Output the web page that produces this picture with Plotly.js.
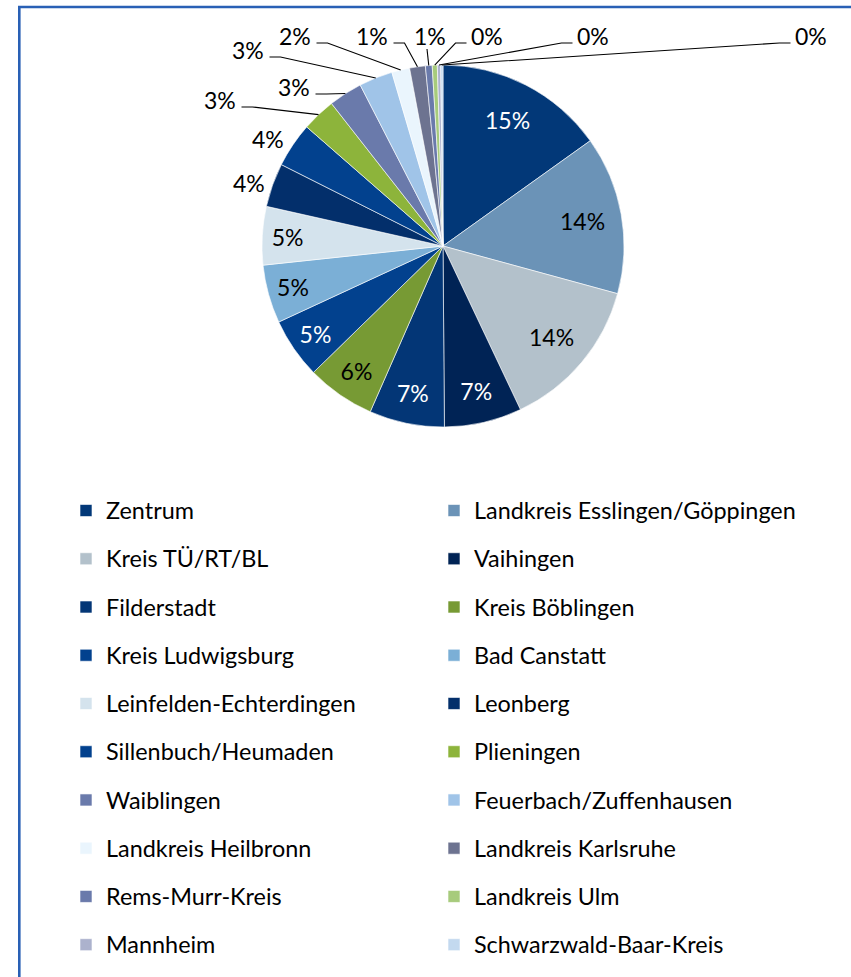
<!DOCTYPE html>
<html><head><meta charset="utf-8">
<script src="https://cdn.plot.ly/plotly-3.0.1.min.js"></script>
<style>html,body{margin:0;padding:0;background:#fff;}#chart{width:851px;height:977px;}</style>
</head><body><div id="chart"></div>
<script>
// ---- data ----
const categories = ["Zentrum","Landkreis Esslingen/Göppingen","Kreis TÜ/RT/BL","Vaihingen","Filderstadt","Kreis Böblingen","Kreis Ludwigsburg","Bad Canstatt","Leinfelden-Echterdingen","Leonberg","Sillenbuch/Heumaden","Plieningen","Waiblingen","Feuerbach/Zuffenhausen","Landkreis Heilbronn","Landkreis Karlsruhe","Rems-Murr-Kreis","Landkreis Ulm","Mannheim","Schwarzwald-Baar-Kreis"];
const shares = [15.1,14.1,13.7,6.9,6.7,6.1,5.4,5.2,5.2,3.9,4.0,3.0,3.0,3.0,1.6,1.4,0.6,0.45,0.3,0.2];

// ---- styles ----
const colors = ["#023878","#6b93b7","#b3c1cb","#002355","#033676","#779a34","#02418e","#7bafd6","#d4e3ed","#032f6b","#02418e","#8db43b","#6a7aab","#a0c4e8","#eaf5fd","#6d7390","#6a7aab","#a7cb7c","#acb2cd","#c3d9ef"];
const insideTextColors = ["#fff","#000","#000","#fff","#fff","#000","#fff","#000","#000","#000","#000","#000","#000","#000","#000","#000","#000","#000","#000","#000"];
const insideCount = 9;      // slices labelled inside the pie
const bigSlices = 3;        // the largest slices: label placed at a fixed radius fraction
const bigLabelRadius = 0.785;
// outside label placement (pixel), side where leader line leaves
const outsideLabels = [
  ["Leonberg",249,183,null],["Sillenbuch/Heumaden",268,139,null],["Plieningen",220,100,"right"],
  ["Waiblingen",294,87,"right"],["Feuerbach/Zuffenhausen",248,50,"right"],["Landkreis Heilbronn",295,36,"right"],
  ["Landkreis Karlsruhe",372,36,"right"],["Rems-Murr-Kreis",430,36,"below"],["Landkreis Ulm",487,36,"left"],
  ["Mannheim",593,36,"left"],["Schwarzwald-Baar-Kreis",811,36,"left"]
];
const W = 851, H = 977;
const FONT = "Lato, 'Open Sans', sans-serif";
const FS = 23, LFS = 23.4;
const domX = [262/W, 624/W], domY = [1-427/H, 1-65/H];

const total = shares.reduce((a,b)=>a+b,0);
const cx = W*(domX[0]+domX[1])/2, cy = H*(1-(domY[0]+domY[1])/2);
const R = Math.min(W*(domX[1]-domX[0]), H*(domY[1]-domY[0]))/2;
const cum = []; let acc = 0; shares.forEach(v=>{cum.push(acc); acc+=v;});
const px = x=>x/W, py = y=>1-y/H;
const midAngle = i => 2*Math.PI*(cum[i]+shares[i]/2)/total;
const pctText = i => Math.round(shares[i]/total*100)+'%';

const legendLabels = categories.map(c=>'<span style="font-size:'+LFS+'px;baseline-shift:5px">'+c+'</span>');

const annotations = [], shapes = [];
// big slices: labels at fixed radius along the bisector
for(let i=0;i<bigSlices;i++){
  const a = midAngle(i);
  annotations.push({x:px(cx+bigLabelRadius*R*Math.sin(a)), y:py(cy-bigLabelRadius*R*Math.cos(a)),
    xref:'paper', yref:'paper', text:pctText(i), showarrow:false,
    font:{family:FONT,size:FS,color:insideTextColors[i]}, xanchor:'center', yanchor:'middle'});
}
outsideLabels.forEach(([name,lx,ly,side])=>{
  const i = categories.indexOf(name);
  annotations.push({x:px(lx), y:py(ly), xref:'paper', yref:'paper', text:pctText(i), showarrow:false,
    font:{family:FONT,size:FS,color:'#000'}, xanchor:'center', yanchor:'middle'});
  if(side){
    const a = midAngle(i);
    const ax = cx + R*Math.sin(a), ay = cy - R*Math.cos(a);
    const hw = 15.5;
    let p;
    if(side==='right'){ const sx=lx+hw+6, sy=ly+7; p=[[sx,sy],[sx+11,sy],[ax,ay]]; }
    else if(side==='left'){ const sx=lx-hw-5, sy=ly+7; p=[[sx,sy],[sx-11,sy],[ax,ay]]; }
    else { p=[[lx-3,ly+13],[ax,ay]]; }
    shapes.push({type:'path', xref:'paper', yref:'paper',
      path: p.map((q,k)=>(k?'L':'M')+px(q[0])+','+py(q[1])).join(' '),
      line:{color:'#000', width:1.1}});
  }
});
// chart frame
shapes.push({type:'path', xref:'paper', yref:'paper', path:'M'+px(19.3)+','+py(977)+' L'+px(19.3)+','+py(7)+' L'+px(851)+','+py(7), line:{color:'#2960b5', width:2.6}});

const trace = {
  type:'pie', labels: legendLabels, values: shares, sort:false, direction:'clockwise', rotation:0,
  marker:{colors: colors, line:{color:'#ffffff', width:0.6}},
  textinfo:'percent', texttemplate:'%{percent:.0%}',
  textposition: shares.map((v,i)=> (i>=bigSlices && i<insideCount) ? 'inside' : 'none'),
  insidetextorientation:'horizontal',
  insidetextfont:{family:FONT, size:FS, color: insideTextColors},
  domain:{x:domX, y:domY}, hoverinfo:'none'
};
const layout = {
  width:W, height:H, margin:{l:0,r:0,t:0,b:0}, paper_bgcolor:'#fff', showlegend:true,
  font:{family:FONT, color:'#000'},
  legend:{orientation:'h', x:66/W, xanchor:'left', y:py(481.4), yanchor:'top',
    entrywidth:323, entrywidthmode:'pixels', font:{family:FONT, size:34.8, color:'#000'},
    bgcolor:'rgba(0,0,0,0)', traceorder:'normal'},
  annotations: annotations, shapes: shapes
};
Plotly.newPlot('chart',[trace],layout,{staticPlot:true, displayModeBar:false});
</script></body></html>
